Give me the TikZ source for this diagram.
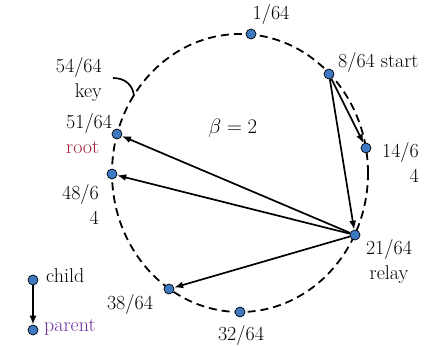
\documentclass[tikz,border=0pt]{standalone}
\usepackage{fontspec}
\usetikzlibrary{arrows.meta}
\definecolor{nodeblue}{RGB}{62,122,196}
\definecolor{rootred}{RGB}{160,28,52}
\definecolor{parentpurple}{RGB}{112,48,160}
\begin{document}
\begin{tikzpicture}[x=1pt,y=-1pt,
  pt/.style={circle,fill=nodeblue,draw=black,line width=0.7pt,inner sep=0pt,minimum size=10pt},
  lbl/.style={inner sep=0pt,font=\fontsize{20}{25}\selectfont},
  arr/.style={line width=1.7pt,-{Latex[length=9pt,width=7pt]}},
  ring/.style={line width=1.8pt,dash pattern=on 8pt off 5pt}]
\useasboundingbox (0,0) rectangle (430,345);
% ring
\draw[ring] (240,173) ellipse [x radius=128pt, y radius=139pt];
% key bracket
\coordinate (k1) at (113,78);
\coordinate (k2) at (134,96);
\draw[line width=1.7pt] (k1) .. controls (126,78) and (133,86) .. (k2);
% nodes
\node[pt] (n1)  at (251,34) {};
\node[pt] (n8)  at (329,74) {};
\node[pt] (n14) at (366,148) {};
\node[pt] (n21) at (355,235) {};
\node[pt] (n32) at (240,312) {};
\node[pt] (n38) at (169,289) {};
\node[pt] (n48) at (112,174) {};
\node[pt] (n51) at (117,134) {};
\node[pt] (child)  at (33,280) {};
\node[pt] (parent) at (33,330) {};
% arrows
\draw[arr] (n8) -- (n14);
\draw[arr] (n8) -- (n21);
\draw[arr] (n21) -- (n51);
\draw[arr] (n21) -- (n48);
\draw[arr] (n21) -- (n38);
\draw[arr] (child) -- (parent);
% labels
\node[lbl] (l1) at (271,15) {1/64};
\node[lbl,anchor=west] (l8) at (338,62) {8/64 start};
\node[lbl,anchor=east,align=right] (l14) at (419,163) {14/6\\4};
\node[lbl,anchor=east,align=right] (l48) at (99,205) {48/6\\4};
\node[lbl,anchor=west,align=left] (l51) at (66,134) {51/64\\\textcolor{rootred}{root}};
\node[lbl,anchor=east,align=right] (l54) at (102,80) {54/64\\key};
\node[lbl,align=center] (l21) at (389,262) {21/64\\relay};
\node[lbl] (l32) at (241,335) {32/64};
\node[lbl] (l38) at (130,304) {38/64};
\node[lbl] (lb) at (233,128) {$\beta=2$};
\node[lbl,anchor=west] (lc) at (46,276) {child};
\node[lbl,anchor=west,text=parentpurple] (lp) at (44,327) {parent};
\end{tikzpicture}
\end{document}
